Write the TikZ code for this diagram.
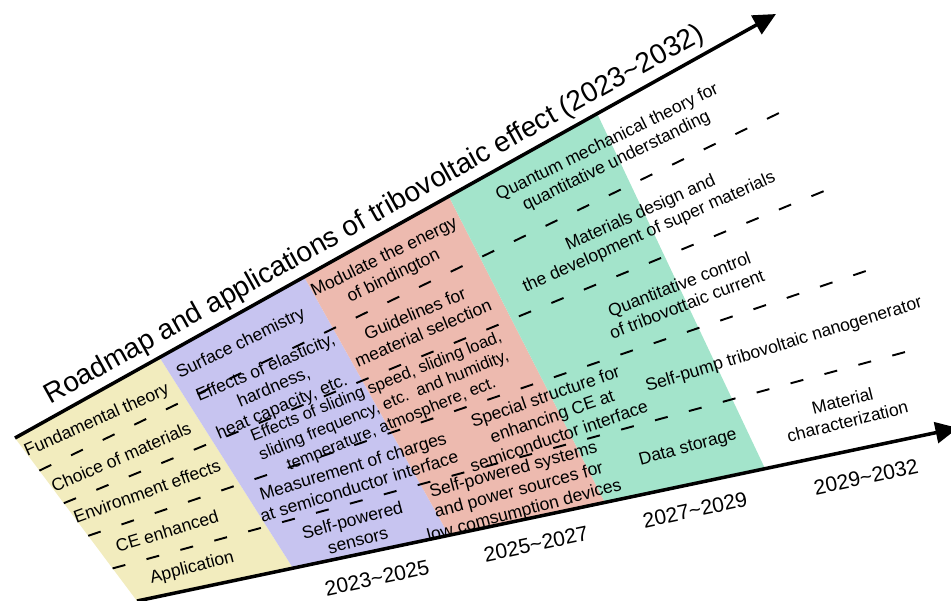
\documentclass[tikz,border=0pt]{standalone}
\usepackage{fontspec}
\setmainfont{Liberation Sans}
\usetikzlibrary{calc,arrows.meta}
\definecolor{bandyellow}{HTML}{F2ECBE}
\definecolor{bandpurple}{HTML}{C7C4F0}
\definecolor{bandred}{HTML}{EDBAAF}
\definecolor{bandgreen}{HTML}{A3E4CB}

\begin{document}
\begin{tikzpicture}[x=0.02cm,y=-0.02cm,
    axis/.style = {line width=2pt, -{Triangle[length=0.45cm,width=0.42cm]}},
    lane/.style = {line width=1.1pt, dash pattern=on 7.5pt off 12.5pt},
    item/.style = {align=center, inner sep=0pt, font=\fontsize{10}{12}\selectfont},
    year/.style = {inner sep=0pt, rotate=12, font=\fontsize{12}{14}\selectfont}]
    \useasboundingbox (0,0) rectangle (951,600);
    % ends of the two time axes
    \coordinate (tl) at (15,438);
    \coordinate (tr) at (776,14);
    \coordinate (bl) at (137,601);
    \coordinate (br) at (958,428);
    % ends of the lanes
    \coordinate (rl) at (750,27);
    \coordinate (rr) at (945,433);
    \foreach \k/\f in {1/0.19,2/0.38,3/0.57,4/0.765} {
        \coordinate (t\k) at ($(tl)!\f!(tr)$);
        \coordinate (b\k) at ($(bl)!\f!(br)$);
    }
    % periods
    \fill[bandyellow] (tl) -- (t1) -- (b1) -- (bl) -- cycle;
    \fill[bandpurple] (t1) -- (t2) -- (b2) -- (b1) -- cycle;
    \fill[bandred] (t2) -- (t3) -- (b3) -- (b2) -- cycle;
    \fill[bandgreen] (t3) -- (t4) -- (b4) -- (b3) -- cycle;
    % lanes
    \foreach \k/\f in {1/0.2,2/0.4,3/0.6,4/0.8} {
        \coordinate (s\k) at ($(tl)!\f!(bl)$);
        \coordinate (e\k) at ($(rl)!\f!(rr)$);
        \draw[lane] (s\k) -- (e\k);
    }
    % 2023~2025 (first column)
    \node[item, rotate=24] (fund) at (97,421) {Fundamental theory};
    \node[item, rotate=23.5] (choice) at (121,457) {Choice of materials};
    \node[item, rotate=20] (envir) at (147,491) {Environment effects};
    \node[item, rotate=17] (ce) at (167,531) {CE enhanced};
    \node[item, rotate=14.5] (appl) at (192,568) {Application};
    \node[item, rotate=26] (surf) at (241,344) {Surface chemistry};
    \node[item, rotate=23] (elast) at (274,388) {Effects of elasticity,\\ hardness,\\ heat capacity, etc.};
    \node[item, rotate=22, font=\fontsize{9.5}{11.5}\selectfont] (slide) at (384,406) {Effects of sliding speed, sliding load,\\ sliding frequency, etc.\ \ and humidity,\\ temperature, atmosphere, ect.};
    \node[item, rotate=17] (meas) at (356,476) {Measurement of charges\\ at semiconductor interface};
    \node[item, rotate=15] (sens) at (355,530) {Self-powered\\ sensors};
    % 2025~2027
    \node[item, rotate=26] (modul) at (389,267) {Modulate the energy\\ of bindington};
    \node[item, rotate=23] (guide) at (419,323) {Guidelines for\\ meaterial selection};
    \node[item, rotate=19] (spec) at (552,416) {Special structure for\\ enhancing CE at\\ semiconductor interface};
    \node[item, rotate=15] (syst) at (519,491) {Self-powered systems\\ and power sources for\\ low comsumption devices};
    % 2027~2029 and 2029~2032
    \node[item, rotate=26] (quant) at (612,152) {Quantum mechanical theory for\\ quantitative understanding};
    \node[item, rotate=24] (design) at (645,223) {Materials design and\\ the development of super materials};
    \node[item, rotate=21] (contr) at (683,294) {Quantitative control\\ of tribovottaic current};
    \node[item, rotate=17] (pump) at (784,345) {Self-pump tribovoltaic nanogenerator};
    \node[item, rotate=15] (store) at (688,448) {Data storage};
    \node[item, rotate=14] (charac) at (845,411) {Material\\ characterization};
    % axes
    \draw[axis] (tl) -- (tr) node[pos=0.485, sloped, above=2.7pt, inner sep=0pt, font=\fontsize{16}{19}\selectfont] (title) {Roadmap and applications of tribovoltaic effect (2023\textasciitilde 2032)};
    \draw[axis] (bl) -- (br);
    \node[year] (y1) at (377,578) {2023\textasciitilde 2025};
    \node[year] (y2) at (536,544) {2025\textasciitilde 2027};
    \node[year] (y3) at (695,510) {2027\textasciitilde 2029};
    \node[year] (y4) at (866,477) {2029\textasciitilde 2032};
\end{tikzpicture}
\end{document}
